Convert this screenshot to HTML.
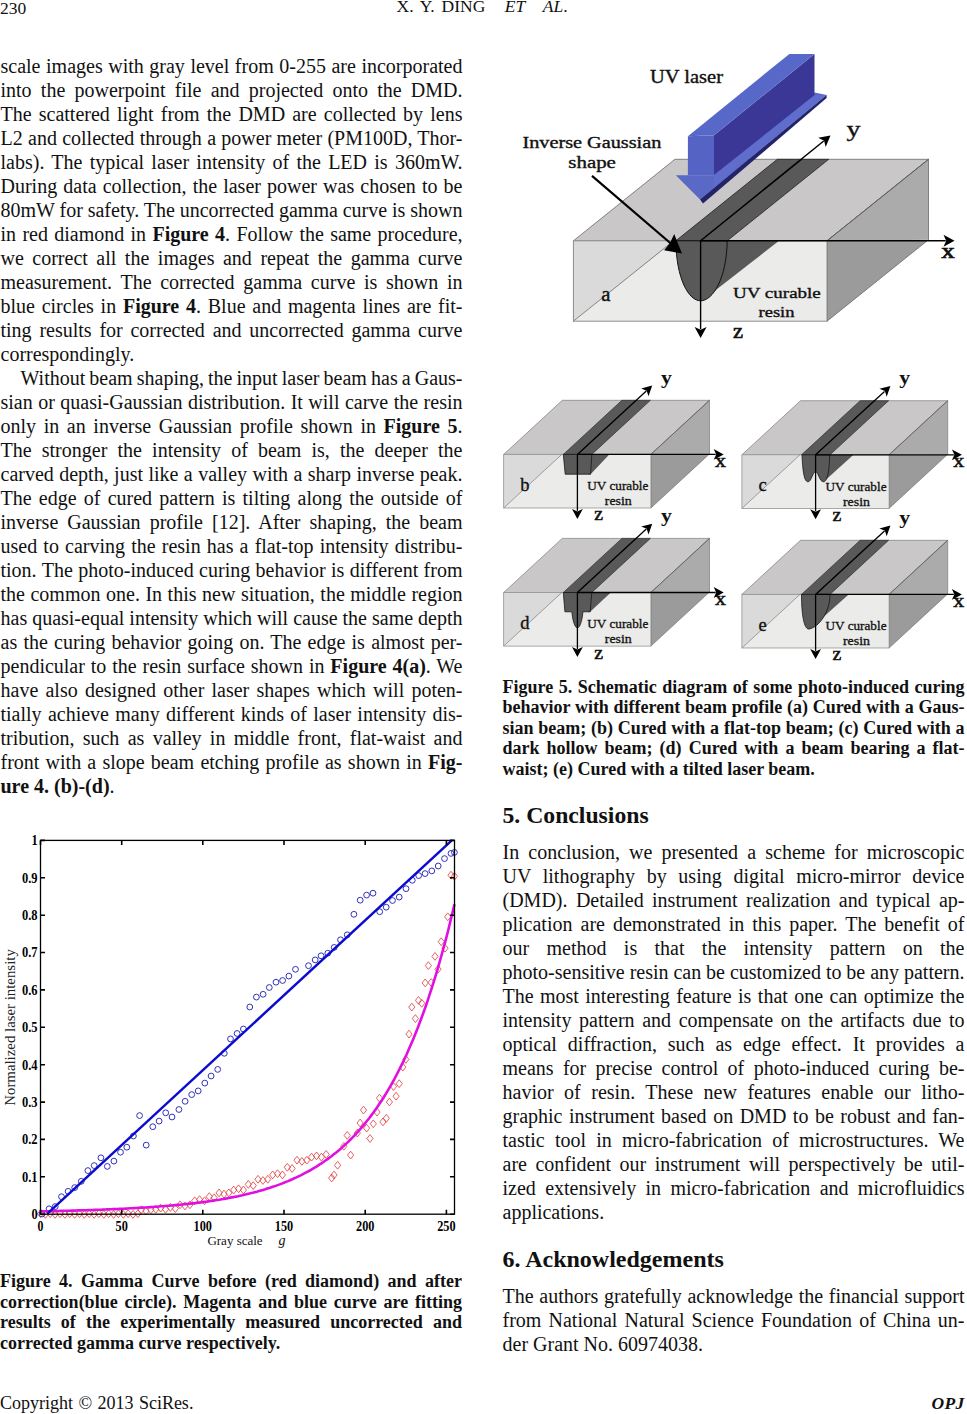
<!DOCTYPE html>
<html><head><meta charset="utf-8"><title>X. Y. DING ET AL. — OPJ 230</title>
<style>
html,body{margin:0;padding:0;background:#fff;}
body{width:967px;height:1414px;position:relative;overflow:hidden;font-family:"Liberation Serif","Times New Roman",serif;color:#111;}
.ln{position:absolute;white-space:nowrap;}
svg{position:absolute;left:0;top:0;}
</style></head><body>
<svg width="967" height="1414" viewBox="0 0 967 1414">
<path d="M40.5,1209.8l3.1,3.9l-3.1,3.9l-3.1,-3.9zM45.4,1210.5l3.1,3.9l-3.1,3.9l-3.1,-3.9zM50.2,1209.8l3.1,3.9l-3.1,3.9l-3.1,-3.9zM55.1,1210.5l3.1,3.9l-3.1,3.9l-3.1,-3.9zM60.0,1209.8l3.1,3.9l-3.1,3.9l-3.1,-3.9zM64.9,1210.5l3.1,3.9l-3.1,3.9l-3.1,-3.9zM69.7,1209.8l3.1,3.9l-3.1,3.9l-3.1,-3.9zM74.6,1210.5l3.1,3.9l-3.1,3.9l-3.1,-3.9zM79.5,1209.8l3.1,3.9l-3.1,3.9l-3.1,-3.9zM84.3,1210.5l3.1,3.9l-3.1,3.9l-3.1,-3.9zM89.2,1209.8l3.1,3.9l-3.1,3.9l-3.1,-3.9zM94.1,1210.5l3.1,3.9l-3.1,3.9l-3.1,-3.9zM98.9,1209.8l3.1,3.9l-3.1,3.9l-3.1,-3.9zM103.8,1210.5l3.1,3.9l-3.1,3.9l-3.1,-3.9zM108.7,1209.8l3.1,3.9l-3.1,3.9l-3.1,-3.9zM113.6,1210.5l3.1,3.9l-3.1,3.9l-3.1,-3.9zM118.4,1209.8l3.1,3.9l-3.1,3.9l-3.1,-3.9zM123.3,1210.5l3.1,3.9l-3.1,3.9l-3.1,-3.9zM128.2,1209.8l3.1,3.9l-3.1,3.9l-3.1,-3.9zM133.0,1210.5l3.1,3.9l-3.1,3.9l-3.1,-3.9zM137.9,1209.8l3.1,3.9l-3.1,3.9l-3.1,-3.9zM141.2,1205.9l3.1,3.9l-3.1,3.9l-3.1,-3.9zM146.0,1207.1l3.1,3.9l-3.1,3.9l-3.1,-3.9zM150.9,1205.9l3.1,3.9l-3.1,3.9l-3.1,-3.9zM155.8,1205.4l3.1,3.9l-3.1,3.9l-3.1,-3.9zM160.6,1204.2l3.1,3.9l-3.1,3.9l-3.1,-3.9zM165.5,1205.4l3.1,3.9l-3.1,3.9l-3.1,-3.9zM170.4,1203.5l3.1,3.9l-3.1,3.9l-3.1,-3.9zM175.3,1204.7l3.1,3.9l-3.1,3.9l-3.1,-3.9zM180.1,1200.9l3.1,3.9l-3.1,3.9l-3.1,-3.9zM185.0,1202.1l3.1,3.9l-3.1,3.9l-3.1,-3.9zM189.9,1200.9l3.1,3.9l-3.1,3.9l-3.1,-3.9zM194.7,1196.9l3.1,3.9l-3.1,3.9l-3.1,-3.9zM199.6,1195.7l3.1,3.9l-3.1,3.9l-3.1,-3.9zM204.5,1196.9l3.1,3.9l-3.1,3.9l-3.1,-3.9zM209.3,1192.7l3.1,3.9l-3.1,3.9l-3.1,-3.9zM214.2,1193.9l3.1,3.9l-3.1,3.9l-3.1,-3.9zM219.1,1189.0l3.1,3.9l-3.1,3.9l-3.1,-3.9zM224.0,1190.2l3.1,3.9l-3.1,3.9l-3.1,-3.9zM228.8,1189.0l3.1,3.9l-3.1,3.9l-3.1,-3.9zM233.7,1186.1l3.1,3.9l-3.1,3.9l-3.1,-3.9zM238.6,1184.9l3.1,3.9l-3.1,3.9l-3.1,-3.9zM243.4,1186.1l3.1,3.9l-3.1,3.9l-3.1,-3.9zM248.3,1180.5l3.1,3.9l-3.1,3.9l-3.1,-3.9zM253.2,1181.7l3.1,3.9l-3.1,3.9l-3.1,-3.9zM258.0,1175.4l3.1,3.9l-3.1,3.9l-3.1,-3.9zM262.9,1176.6l3.1,3.9l-3.1,3.9l-3.1,-3.9zM267.8,1175.4l3.1,3.9l-3.1,3.9l-3.1,-3.9zM272.7,1171.0l3.1,3.9l-3.1,3.9l-3.1,-3.9zM277.5,1169.8l3.1,3.9l-3.1,3.9l-3.1,-3.9zM282.4,1171.0l3.1,3.9l-3.1,3.9l-3.1,-3.9zM287.3,1163.4l3.1,3.9l-3.1,3.9l-3.1,-3.9zM292.1,1164.6l3.1,3.9l-3.1,3.9l-3.1,-3.9zM297.0,1156.3l3.1,3.9l-3.1,3.9l-3.1,-3.9zM301.9,1157.5l3.1,3.9l-3.1,3.9l-3.1,-3.9zM306.8,1156.3l3.1,3.9l-3.1,3.9l-3.1,-3.9zM311.6,1153.2l3.1,3.9l-3.1,3.9l-3.1,-3.9zM316.5,1152.0l3.1,3.9l-3.1,3.9l-3.1,-3.9zM321.4,1153.2l3.1,3.9l-3.1,3.9l-3.1,-3.9zM326.2,1150.5l3.1,3.9l-3.1,3.9l-3.1,-3.9zM331.7,1174.1l3.1,3.9l-3.1,3.9l-3.1,-3.9zM334.0,1171.1l3.1,3.9l-3.1,3.9l-3.1,-3.9zM337.6,1161.4l3.1,3.9l-3.1,3.9l-3.1,-3.9zM343.8,1142.4l3.1,3.9l-3.1,3.9l-3.1,-3.9zM347.2,1131.5l3.1,3.9l-3.1,3.9l-3.1,-3.9zM350.6,1151.2l3.1,3.9l-3.1,3.9l-3.1,-3.9zM357.3,1129.2l3.1,3.9l-3.1,3.9l-3.1,-3.9zM360.1,1119.1l3.1,3.9l-3.1,3.9l-3.1,-3.9zM363.5,1106.2l3.1,3.9l-3.1,3.9l-3.1,-3.9zM366.6,1124.2l3.1,3.9l-3.1,3.9l-3.1,-3.9zM370.0,1134.6l3.1,3.9l-3.1,3.9l-3.1,-3.9zM373.3,1119.9l3.1,3.9l-3.1,3.9l-3.1,-3.9zM377.0,1108.2l3.1,3.9l-3.1,3.9l-3.1,-3.9zM379.5,1094.3l3.1,3.9l-3.1,3.9l-3.1,-3.9zM382.9,1118.0l3.1,3.9l-3.1,3.9l-3.1,-3.9zM386.3,1114.4l3.1,3.9l-3.1,3.9l-3.1,-3.9zM389.4,1098.1l3.1,3.9l-3.1,3.9l-3.1,-3.9zM393.5,1082.6l3.1,3.9l-3.1,3.9l-3.1,-3.9zM396.1,1092.3l3.1,3.9l-3.1,3.9l-3.1,-3.9zM399.2,1079.8l3.1,3.9l-3.1,3.9l-3.1,-3.9zM402.8,1063.2l3.1,3.9l-3.1,3.9l-3.1,-3.9zM405.9,1055.5l3.1,3.9l-3.1,3.9l-3.1,-3.9zM409.0,1030.2l3.1,3.9l-3.1,3.9l-3.1,-3.9zM411.8,1003.2l3.1,3.9l-3.1,3.9l-3.1,-3.9zM415.4,1014.7l3.1,3.9l-3.1,3.9l-3.1,-3.9zM418.5,996.5l3.1,3.9l-3.1,3.9l-3.1,-3.9zM421.8,999.4l3.1,3.9l-3.1,3.9l-3.1,-3.9zM425.2,979.0l3.1,3.9l-3.1,3.9l-3.1,-3.9zM428.4,961.7l3.1,3.9l-3.1,3.9l-3.1,-3.9zM431.2,978.6l3.1,3.9l-3.1,3.9l-3.1,-3.9zM435.0,952.5l3.1,3.9l-3.1,3.9l-3.1,-3.9zM438.0,965.3l3.1,3.9l-3.1,3.9l-3.1,-3.9zM441.2,937.8l3.1,3.9l-3.1,3.9l-3.1,-3.9zM445.0,944.3l3.1,3.9l-3.1,3.9l-3.1,-3.9zM447.7,912.9l3.1,3.9l-3.1,3.9l-3.1,-3.9zM451.0,871.3l3.1,3.9l-3.1,3.9l-3.1,-3.9zM454.4,872.4l3.1,3.9l-3.1,3.9l-3.1,-3.9z" fill="none" stroke="#e03a3a" stroke-width="0.8"/>
<circle cx="42" cy="1214" r="2.9" fill="none" stroke="#2828b8" stroke-width="0.95"/>
<circle cx="49.1" cy="1208.8" r="2.9" fill="none" stroke="#2828b8" stroke-width="0.95"/>
<circle cx="55.2" cy="1206.6" r="2.9" fill="none" stroke="#2828b8" stroke-width="0.95"/>
<circle cx="61.5" cy="1196.7" r="2.9" fill="none" stroke="#2828b8" stroke-width="0.95"/>
<circle cx="68.1" cy="1191.3" r="2.9" fill="none" stroke="#2828b8" stroke-width="0.95"/>
<circle cx="74.7" cy="1187.6" r="2.9" fill="none" stroke="#2828b8" stroke-width="0.95"/>
<circle cx="81.3" cy="1181.3" r="2.9" fill="none" stroke="#2828b8" stroke-width="0.95"/>
<circle cx="87.9" cy="1170.6" r="2.9" fill="none" stroke="#2828b8" stroke-width="0.95"/>
<circle cx="94.2" cy="1165.6" r="2.9" fill="none" stroke="#2828b8" stroke-width="0.95"/>
<circle cx="100.9" cy="1157.8" r="2.9" fill="none" stroke="#2828b8" stroke-width="0.95"/>
<circle cx="107.3" cy="1166.4" r="2.9" fill="none" stroke="#2828b8" stroke-width="0.95"/>
<circle cx="113.9" cy="1161.1" r="2.9" fill="none" stroke="#2828b8" stroke-width="0.95"/>
<circle cx="120.5" cy="1152.2" r="2.9" fill="none" stroke="#2828b8" stroke-width="0.95"/>
<circle cx="126.8" cy="1147.2" r="2.9" fill="none" stroke="#2828b8" stroke-width="0.95"/>
<circle cx="133.4" cy="1136" r="2.9" fill="none" stroke="#2828b8" stroke-width="0.95"/>
<circle cx="139.6" cy="1115.6" r="2.9" fill="none" stroke="#2828b8" stroke-width="0.95"/>
<circle cx="146.2" cy="1145.1" r="2.9" fill="none" stroke="#2828b8" stroke-width="0.95"/>
<circle cx="152.8" cy="1126.7" r="2.9" fill="none" stroke="#2828b8" stroke-width="0.95"/>
<circle cx="159.1" cy="1121.1" r="2.9" fill="none" stroke="#2828b8" stroke-width="0.95"/>
<circle cx="165.7" cy="1112.8" r="2.9" fill="none" stroke="#2828b8" stroke-width="0.95"/>
<circle cx="172" cy="1117" r="2.9" fill="none" stroke="#2828b8" stroke-width="0.95"/>
<circle cx="178.9" cy="1109.5" r="2.9" fill="none" stroke="#2828b8" stroke-width="0.95"/>
<circle cx="185.1" cy="1101.3" r="2.9" fill="none" stroke="#2828b8" stroke-width="0.95"/>
<circle cx="191.7" cy="1094.6" r="2.9" fill="none" stroke="#2828b8" stroke-width="0.95"/>
<circle cx="198.2" cy="1090.9" r="2.9" fill="none" stroke="#2828b8" stroke-width="0.95"/>
<circle cx="204.8" cy="1083.1" r="2.9" fill="none" stroke="#2828b8" stroke-width="0.95"/>
<circle cx="211.1" cy="1076" r="2.9" fill="none" stroke="#2828b8" stroke-width="0.95"/>
<circle cx="217.7" cy="1069.4" r="2.9" fill="none" stroke="#2828b8" stroke-width="0.95"/>
<circle cx="224.3" cy="1053.3" r="2.9" fill="none" stroke="#2828b8" stroke-width="0.95"/>
<circle cx="230.5" cy="1038.9" r="2.9" fill="none" stroke="#2828b8" stroke-width="0.95"/>
<circle cx="237.1" cy="1033.5" r="2.9" fill="none" stroke="#2828b8" stroke-width="0.95"/>
<circle cx="243.4" cy="1029" r="2.9" fill="none" stroke="#2828b8" stroke-width="0.95"/>
<circle cx="249.8" cy="1007" r="2.9" fill="none" stroke="#2828b8" stroke-width="0.95"/>
<circle cx="256.4" cy="997.1" r="2.9" fill="none" stroke="#2828b8" stroke-width="0.95"/>
<circle cx="263.1" cy="994.3" r="2.9" fill="none" stroke="#2828b8" stroke-width="0.95"/>
<circle cx="269.3" cy="987.5" r="2.9" fill="none" stroke="#2828b8" stroke-width="0.95"/>
<circle cx="276" cy="982.2" r="2.9" fill="none" stroke="#2828b8" stroke-width="0.95"/>
<circle cx="282.6" cy="980.5" r="2.9" fill="none" stroke="#2828b8" stroke-width="0.95"/>
<circle cx="288.9" cy="976.1" r="2.9" fill="none" stroke="#2828b8" stroke-width="0.95"/>
<circle cx="295.5" cy="969.3" r="2.9" fill="none" stroke="#2828b8" stroke-width="0.95"/>
<circle cx="308.5" cy="965.7" r="2.9" fill="none" stroke="#2828b8" stroke-width="0.95"/>
<circle cx="315.2" cy="959.9" r="2.9" fill="none" stroke="#2828b8" stroke-width="0.95"/>
<circle cx="321.1" cy="955.8" r="2.9" fill="none" stroke="#2828b8" stroke-width="0.95"/>
<circle cx="327.8" cy="953.2" r="2.9" fill="none" stroke="#2828b8" stroke-width="0.95"/>
<circle cx="334.2" cy="947.4" r="2.9" fill="none" stroke="#2828b8" stroke-width="0.95"/>
<circle cx="340.5" cy="939.8" r="2.9" fill="none" stroke="#2828b8" stroke-width="0.95"/>
<circle cx="347.2" cy="934.8" r="2.9" fill="none" stroke="#2828b8" stroke-width="0.95"/>
<circle cx="353.9" cy="914.3" r="2.9" fill="none" stroke="#2828b8" stroke-width="0.95"/>
<circle cx="360.2" cy="900.2" r="2.9" fill="none" stroke="#2828b8" stroke-width="0.95"/>
<circle cx="366.6" cy="895.1" r="2.9" fill="none" stroke="#2828b8" stroke-width="0.95"/>
<circle cx="373" cy="893.2" r="2.9" fill="none" stroke="#2828b8" stroke-width="0.95"/>
<circle cx="379.7" cy="911.7" r="2.9" fill="none" stroke="#2828b8" stroke-width="0.95"/>
<circle cx="386.2" cy="907.2" r="2.9" fill="none" stroke="#2828b8" stroke-width="0.95"/>
<circle cx="392.5" cy="900.5" r="2.9" fill="none" stroke="#2828b8" stroke-width="0.95"/>
<circle cx="399.2" cy="897.1" r="2.9" fill="none" stroke="#2828b8" stroke-width="0.95"/>
<circle cx="406" cy="888.7" r="2.9" fill="none" stroke="#2828b8" stroke-width="0.95"/>
<circle cx="412.3" cy="880.3" r="2.9" fill="none" stroke="#2828b8" stroke-width="0.95"/>
<circle cx="418.7" cy="875.6" r="2.9" fill="none" stroke="#2828b8" stroke-width="0.95"/>
<circle cx="425.1" cy="873.6" r="2.9" fill="none" stroke="#2828b8" stroke-width="0.95"/>
<circle cx="431.8" cy="870.9" r="2.9" fill="none" stroke="#2828b8" stroke-width="0.95"/>
<circle cx="438.2" cy="866" r="2.9" fill="none" stroke="#2828b8" stroke-width="0.95"/>
<circle cx="444.5" cy="858.6" r="2.9" fill="none" stroke="#2828b8" stroke-width="0.95"/>
<circle cx="451" cy="853.4" r="2.9" fill="none" stroke="#2828b8" stroke-width="0.95"/>
<circle cx="454.4" cy="852.4" r="2.9" fill="none" stroke="#2828b8" stroke-width="0.95"/>
<polyline points="40.5,1211.4 42.6,1211.3 44.7,1211.3 46.7,1211.3 48.8,1211.2 50.9,1211.2 53.0,1211.1 55.1,1211.1 57.1,1211.0 59.2,1211.0 61.3,1210.9 63.4,1210.8 65.5,1210.8 67.5,1210.7 69.6,1210.7 71.7,1210.6 73.8,1210.6 75.9,1210.5 77.9,1210.4 80.0,1210.4 82.1,1210.3 84.2,1210.2 86.3,1210.2 88.3,1210.1 90.4,1210.0 92.5,1210.0 94.6,1209.9 96.7,1209.8 98.8,1209.7 100.8,1209.7 102.9,1209.6 105.0,1209.5 107.1,1209.4 109.2,1209.3 111.2,1209.2 113.3,1209.1 115.4,1209.1 117.5,1209.0 119.6,1208.9 121.6,1208.8 123.7,1208.7 125.8,1208.6 127.9,1208.5 130.0,1208.3 132.0,1208.2 134.1,1208.1 136.2,1208.0 138.3,1207.9 140.4,1207.8 142.4,1207.6 144.5,1207.5 146.6,1207.4 148.7,1207.2 150.8,1207.1 152.8,1207.0 154.9,1206.8 157.0,1206.7 159.1,1206.5 161.2,1206.3 163.2,1206.2 165.3,1206.0 167.4,1205.8 169.5,1205.7 171.6,1205.5 173.6,1205.3 175.7,1205.1 177.8,1204.9 179.9,1204.7 182.0,1204.5 184.0,1204.3 186.1,1204.1 188.2,1203.9 190.3,1203.6 192.4,1203.4 194.4,1203.2 196.5,1202.9 198.6,1202.6 200.7,1202.4 202.8,1202.1 204.9,1201.8 206.9,1201.6 209.0,1201.3 211.1,1201.0 213.2,1200.6 215.3,1200.3 217.3,1200.0 219.4,1199.7 221.5,1199.3 223.6,1199.0 225.7,1198.6 227.7,1198.2 229.8,1197.8 231.9,1197.4 234.0,1197.0 236.1,1196.6 238.1,1196.2 240.2,1195.7 242.3,1195.3 244.4,1194.8 246.5,1194.3 248.5,1193.8 250.6,1193.3 252.7,1192.8 254.8,1192.2 256.9,1191.7 258.9,1191.1 261.0,1190.5 263.1,1189.9 265.2,1189.3 267.3,1188.6 269.3,1188.0 271.4,1187.3 273.5,1186.6 275.6,1185.9 277.7,1185.1 279.7,1184.4 281.8,1183.6 283.9,1182.8 286.0,1181.9 288.1,1181.1 290.1,1180.2 292.2,1179.3 294.3,1178.3 296.4,1177.4 298.5,1176.4 300.6,1175.4 302.6,1174.3 304.7,1173.2 306.8,1172.1 308.9,1171.0 311.0,1169.8 313.0,1168.6 315.1,1167.4 317.2,1166.1 319.3,1164.7 321.4,1163.4 323.4,1162.0 325.5,1160.5 327.6,1159.1 329.7,1157.5 331.8,1156.0 333.8,1154.3 335.9,1152.7 338.0,1150.9 340.1,1149.2 342.2,1147.4 344.2,1145.5 346.3,1143.6 348.4,1141.6 350.5,1139.5 352.6,1137.4 354.6,1135.3 356.7,1133.0 358.8,1130.7 360.9,1128.4 363.0,1125.9 365.0,1123.4 367.1,1120.8 369.2,1118.2 371.3,1115.4 373.4,1112.6 375.4,1109.7 377.5,1106.7 379.6,1103.6 381.7,1100.5 383.8,1097.2 385.8,1093.8 387.9,1090.4 390.0,1086.8 392.1,1083.2 394.2,1079.4 396.2,1075.5 398.3,1071.5 400.4,1067.4 402.5,1063.1 404.6,1058.7 406.7,1054.2 408.7,1049.6 410.8,1044.8 412.9,1039.9 415.0,1034.8 417.1,1029.6 419.1,1024.3 421.2,1018.7 423.3,1013.0 425.4,1007.2 427.5,1001.1 429.5,994.9 431.6,988.5 433.7,981.9 435.8,975.1 437.9,968.2 439.9,961.0 442.0,953.5 444.1,945.9 446.2,938.1 448.3,930.0 450.3,921.6 452.4,913.0 454.5,904.2" fill="none" stroke="#e010e0" stroke-width="2.6"/>
<line x1="47.4" y1="1213.6" x2="451.8" y2="840.4" stroke="#0c0cd0" stroke-width="2.5"/>
<rect x="40.5" y="840.4" width="414" height="373.8" fill="none" stroke="#000" stroke-width="1.3"/>
<path d="M40.5,1214.2v-4.5M40.5,840.4v4.5M121.7,1214.2v-4.5M121.7,840.4v4.5M202.8,1214.2v-4.5M202.8,840.4v4.5M284.0,1214.2v-4.5M284.0,840.4v4.5M365.2,1214.2v-4.5M365.2,840.4v4.5M446.4,1214.2v-4.5M446.4,840.4v4.5M40.5,1214.2h4.5M454.5,1214.2h-4.5M40.5,1176.8h4.5M454.5,1176.8h-4.5M40.5,1139.4h4.5M454.5,1139.4h-4.5M40.5,1102.1h4.5M454.5,1102.1h-4.5M40.5,1064.7h4.5M454.5,1064.7h-4.5M40.5,1027.3h4.5M454.5,1027.3h-4.5M40.5,989.9h4.5M454.5,989.9h-4.5M40.5,952.5h4.5M454.5,952.5h-4.5M40.5,915.2h4.5M454.5,915.2h-4.5M40.5,877.8h4.5M454.5,877.8h-4.5M40.5,840.4h4.5M454.5,840.4h-4.5" stroke="#000" stroke-width="1.6" fill="none"/>
<g font-family="Liberation Serif" font-weight="bold" font-size="14.6px" fill="#000"><text x="40.5" y="1231" text-anchor="middle" textLength="5.9" lengthAdjust="spacingAndGlyphs">0</text><text x="121.7" y="1231" text-anchor="middle" textLength="12.3" lengthAdjust="spacingAndGlyphs">50</text><text x="202.8" y="1231" text-anchor="middle" textLength="18.4" lengthAdjust="spacingAndGlyphs">100</text><text x="284.0" y="1231" text-anchor="middle" textLength="18.4" lengthAdjust="spacingAndGlyphs">150</text><text x="365.2" y="1231" text-anchor="middle" textLength="18.4" lengthAdjust="spacingAndGlyphs">200</text><text x="446.4" y="1231" text-anchor="middle" textLength="18.4" lengthAdjust="spacingAndGlyphs">250</text><text x="37.6" y="1219.1" text-anchor="end" textLength="6.2" lengthAdjust="spacingAndGlyphs">0</text><text x="37.6" y="1181.7" text-anchor="end" textLength="15.6" lengthAdjust="spacingAndGlyphs">0.1</text><text x="37.6" y="1144.3" text-anchor="end" textLength="15.6" lengthAdjust="spacingAndGlyphs">0.2</text><text x="37.6" y="1107.0" text-anchor="end" textLength="15.6" lengthAdjust="spacingAndGlyphs">0.3</text><text x="37.6" y="1069.6" text-anchor="end" textLength="15.6" lengthAdjust="spacingAndGlyphs">0.4</text><text x="37.6" y="1032.2" text-anchor="end" textLength="15.6" lengthAdjust="spacingAndGlyphs">0.5</text><text x="37.6" y="994.8" text-anchor="end" textLength="15.6" lengthAdjust="spacingAndGlyphs">0.6</text><text x="37.6" y="957.4" text-anchor="end" textLength="15.6" lengthAdjust="spacingAndGlyphs">0.7</text><text x="37.6" y="920.1" text-anchor="end" textLength="15.6" lengthAdjust="spacingAndGlyphs">0.8</text><text x="37.6" y="882.7" text-anchor="end" textLength="15.6" lengthAdjust="spacingAndGlyphs">0.9</text><text x="37.6" y="845.3" text-anchor="end" textLength="6.2" lengthAdjust="spacingAndGlyphs">1</text></g>
<text x="207.4" y="1245.4" font-family="Liberation Serif" font-size="13px" fill="#111">Gray scale</text>
<text x="278.5" y="1245.4" font-family="Liberation Serif" font-size="14px" font-style="italic" fill="#111">g</text>
<text transform="translate(14.9,1105.7) rotate(-90)" font-family="Liberation Serif" font-size="14px" fill="#222" textLength="156.5" lengthAdjust="spacingAndGlyphs">Normalized laser intensity</text>
<g font-family="Liberation Serif">
<polygon points="573.4,240.8 827.0,240.8 928.5,159.3 674.9,159.3" fill="#c9c7c8" stroke="#6a6a6a" stroke-width="0.8"/>
<polygon points="827.0,240.8 928.5,159.3 928.5,239.7" fill="#ababab"/>
<polygon points="827.0,240.8 928.5,239.7 827.0,321.2" fill="#9b9b9b"/>
<polygon points="827.0,240.8 928.5,159.3 928.5,239.7 827.0,321.2" fill="none" stroke="#6a6a6a" stroke-width="0.8"/>
<line x1="827.0" y1="240.8" x2="928.5" y2="159.3" stroke="#555" stroke-width="0.8"/>
<rect x="573.4" y="240.8" width="253.6" height="80.4" fill="#ebebe9"/>
<polygon points="573.4,240.8 674.9,240.8 573.4,321.2" fill="#dadada"/>
<line x1="573.4" y1="321.2" x2="674.9" y2="239.7" stroke="#555" stroke-width="0.6400000000000001"/>
<rect x="573.4" y="240.8" width="253.6" height="80.4" fill="none" stroke="#8a8a8a" stroke-width="0.96"/>
<polygon points="675.8,240.8 727.2,240.8 828.7,159.3 777.3,159.3" fill="#595959" stroke="#222" stroke-width="0.8"/>
<line x1="700.6" y1="240.8" x2="802.1" y2="159.3" stroke="#111" stroke-width="0.8800000000000001"/>
<polygon points="719.2,240.8 779.1,240.8 702.6,300.3 696.6,290.8" fill="#595959"/>
<path d="M675.8,240.8 C676.3,278.8 688.6,300.8 700.6,300.8 C712.6,300.8 726.7,278.8 727.2,240.8 Z" fill="#595959" stroke="#111" stroke-width="1.00"/>
<polygon points="675.8,175.3 700.0,199.5 826.6,94.9 814.5,92.5 714.0,175.3 687.9,175.3" fill="#5a68c6"/>
<polygon points="700.0,199.5 826.6,94.9 826.6,98.0 703.0,203.5" fill="#23236a"/>
<polygon points="714.0,135.3 814.5,53.9 814.5,95.3 714.0,175.3" fill="#3b3797"/>
<polygon points="687.9,136.2 714.0,135.3 714.0,175.3 687.9,175.3" fill="#5563c4"/>
<polygon points="687.9,136.2 714.0,135.3 814.5,53.9 789.4,53.9" fill="#5868c9"/>
<polygon points="714.0,175.3 814.5,95.3 826.6,94.9 714.0,187.0" fill="#5f6dcc"/>
<line x1="700.6" y1="240.8" x2="945.7" y2="240.8" stroke="#000" stroke-width="1.4"/>
<polygon points="954.5,240.8 943.5,246.8 946.2,240.8 943.5,234.8" fill="#000"/>
<line x1="700.6" y1="240.8" x2="823.7" y2="141.0" stroke="#000" stroke-width="1.4"/>
<polygon points="830.5,135.5 825.7,147.1 824.1,140.7 818.2,137.8" fill="#000"/>
<line x1="700.6" y1="240.8" x2="700.6" y2="329.2" stroke="#000" stroke-width="1.4"/>
<polygon points="700.6,338.0 694.6,327.0 700.6,329.8 706.6,327.0" fill="#000"/>
<line x1="592" y1="175.9" x2="672" y2="244.5" stroke="#000" stroke-width="2.2"/>
<polygon points="682.0,253.4 664.1,250.2 670.0,243.0 674.2,234.0" fill="#000"/>
<text x="522.4" y="148.2" font-size="16px" text-anchor="start" textLength="139" lengthAdjust="spacingAndGlyphs" stroke="#111" stroke-width="0.35" fill="#111">Inverse Gaussian</text>
<text x="568.3" y="167.6" font-size="16px" text-anchor="start" textLength="47.6" lengthAdjust="spacingAndGlyphs" stroke="#111" stroke-width="0.35" fill="#111">shape</text>
<text x="650" y="83.4" font-size="18px" text-anchor="start" textLength="73" lengthAdjust="spacingAndGlyphs" stroke="#111" stroke-width="0.35" fill="#111">UV laser</text>
<text x="733" y="297.6" font-size="15.5px" text-anchor="start" textLength="87.8" lengthAdjust="spacingAndGlyphs" stroke="#111" stroke-width="0.35" fill="#111">UV curable</text>
<text x="758.5" y="316.5" font-size="15.5px" text-anchor="start" textLength="36" lengthAdjust="spacingAndGlyphs" stroke="#111" stroke-width="0.35" fill="#111">resin</text>
<text x="601.3" y="300.6" font-size="20px" text-anchor="start" textLength="9.2" lengthAdjust="spacingAndGlyphs" stroke="#111" stroke-width="0.4" fill="#111">a</text>
<text x="733" y="338.3" font-size="20px" text-anchor="start" textLength="10" lengthAdjust="spacingAndGlyphs" stroke="#111" stroke-width="0.6" fill="#111">z</text>
<text x="941.2" y="258" font-size="20px" text-anchor="start" textLength="13.5" lengthAdjust="spacingAndGlyphs" stroke="#111" stroke-width="0.7" fill="#111">x</text>
<text x="846.5" y="136.4" font-size="21px" text-anchor="start" textLength="14" lengthAdjust="spacingAndGlyphs" stroke="#111" stroke-width="0.35" fill="#111">y</text>
<polygon points="503.7,454.4 650.9,454.4 709.5,400.3 562.3,400.3" fill="#c9c7c8" stroke="#6a6a6a" stroke-width="0.6"/>
<polygon points="650.9,454.4 709.5,400.3 709.5,453.9" fill="#ababab"/>
<polygon points="650.9,454.4 709.5,453.9 650.9,508.0" fill="#9b9b9b"/>
<polygon points="650.9,454.4 709.5,400.3 709.5,453.9 650.9,508.0" fill="none" stroke="#6a6a6a" stroke-width="0.6"/>
<line x1="650.9" y1="454.4" x2="709.5" y2="400.3" stroke="#555" stroke-width="0.6"/>
<rect x="503.7" y="454.4" width="147.2" height="53.6" fill="#ebebe9"/>
<polygon points="503.7,454.4 562.3,454.4 503.7,508.0" fill="#dadada"/>
<line x1="503.7" y1="508.0" x2="562.3" y2="453.9" stroke="#555" stroke-width="0.48"/>
<rect x="503.7" y="454.4" width="147.2" height="53.6" fill="none" stroke="#8a8a8a" stroke-width="0.72"/>
<polygon points="563.3,454.4 591.8,454.4 650.4,400.3 621.9,400.3" fill="#595959" stroke="#222" stroke-width="0.6"/>
<line x1="577.4" y1="454.4" x2="636.0" y2="400.3" stroke="#111" stroke-width="0.66"/>
<polygon points="587.8,454.4 609.3,454.4 590.6,474.2 587.8,474.2" fill="#595959"/>
<path d="M563.3,454.4 L565.1999999999999,474.2 L590.5999999999999,474.2 L591.8,454.4 Z" fill="#595959" stroke="#111" stroke-width="0.75"/>
<line x1="577.4" y1="454.4" x2="715.7" y2="454.4" stroke="#000" stroke-width="1.3"/>
<polygon points="723.7,454.4 713.7,459.8 716.2,454.4 713.7,449.0" fill="#000"/>
<line x1="577.4" y1="454.4" x2="646.3" y2="391.0" stroke="#000" stroke-width="1.3"/>
<polygon points="652.2,385.6 648.5,396.3 646.7,390.7 641.2,388.4" fill="#000"/>
<line x1="577.4" y1="454.4" x2="577.4" y2="510.9" stroke="#000" stroke-width="1.3"/>
<polygon points="577.4,518.9 572.0,508.9 577.4,511.4 582.8,508.9" fill="#000"/>
<text x="520.2" y="490.6" font-size="18.5px" text-anchor="start" stroke="#111" stroke-width="0.35" fill="#111">b</text>
<text x="587.3" y="490.3" font-size="12.5px" text-anchor="start" textLength="61" lengthAdjust="spacingAndGlyphs" stroke="#111" stroke-width="0.3" fill="#111">UV curable</text>
<text x="604.8" y="505.2" font-size="12.5px" text-anchor="start" textLength="27" lengthAdjust="spacingAndGlyphs" stroke="#111" stroke-width="0.3" fill="#111">resin</text>
<text x="594.2" y="520.4" font-size="18px" text-anchor="start" textLength="8.8" lengthAdjust="spacingAndGlyphs" stroke="#111" stroke-width="0.5" fill="#111">z</text>
<text x="715.0" y="467.0" font-size="18px" text-anchor="start" textLength="11" lengthAdjust="spacingAndGlyphs" stroke="#111" stroke-width="0.5" fill="#111">x</text>
<text x="661.0" y="384.0" font-size="19.5px" text-anchor="start" font-weight="bold" textLength="10.9" lengthAdjust="spacingAndGlyphs" fill="#111">y</text>
<polygon points="741.9,454.8 889.1,454.8 947.7,400.7 800.5,400.7" fill="#c9c7c8" stroke="#6a6a6a" stroke-width="0.6"/>
<polygon points="889.1,454.8 947.7,400.7 947.7,454.3" fill="#ababab"/>
<polygon points="889.1,454.8 947.7,454.3 889.1,508.4" fill="#9b9b9b"/>
<polygon points="889.1,454.8 947.7,400.7 947.7,454.3 889.1,508.4" fill="none" stroke="#6a6a6a" stroke-width="0.6"/>
<line x1="889.1" y1="454.8" x2="947.7" y2="400.7" stroke="#555" stroke-width="0.6"/>
<rect x="741.9" y="454.8" width="147.2" height="53.6" fill="#ebebe9"/>
<polygon points="741.9,454.8 800.5,454.8 741.9,508.4" fill="#dadada"/>
<line x1="741.9" y1="508.4" x2="800.5" y2="454.3" stroke="#555" stroke-width="0.48"/>
<rect x="741.9" y="454.8" width="147.2" height="53.6" fill="none" stroke="#8a8a8a" stroke-width="0.72"/>
<polygon points="801.5,454.8 830.0,454.8 888.6,400.7 860.1,400.7" fill="#595959" stroke="#222" stroke-width="0.6"/>
<line x1="815.6" y1="454.8" x2="874.2" y2="400.7" stroke="#111" stroke-width="0.66"/>
<polygon points="825.0,454.8 853.5,454.8 823.6,481.8 818.6,475.8" fill="#595959"/>
<path d="M802.0,454.8 C802.5,466.8 803.5,481.8 808.0,481.8 C811.5,481.8 812.6,471.8 815.6,471.8 C818.6,471.8 819.1,481.8 823.6,481.8 C828.0,481.8 829.5,466.8 829.7,454.8 Z" fill="#595959" stroke="#111" stroke-width="0.75"/>
<line x1="815.6" y1="454.8" x2="953.9" y2="454.8" stroke="#000" stroke-width="1.3"/>
<polygon points="961.9,454.8 951.9,460.2 954.4,454.8 951.9,449.4" fill="#000"/>
<line x1="815.6" y1="454.8" x2="884.5" y2="391.4" stroke="#000" stroke-width="1.3"/>
<polygon points="890.4,386.0 886.7,396.7 884.9,391.1 879.4,388.8" fill="#000"/>
<line x1="815.6" y1="454.8" x2="815.6" y2="511.3" stroke="#000" stroke-width="1.3"/>
<polygon points="815.6,519.3 810.2,509.3 815.6,511.8 821.0,509.3" fill="#000"/>
<text x="758.4" y="491.0" font-size="18.5px" text-anchor="start" stroke="#111" stroke-width="0.35" fill="#111">c</text>
<text x="825.5" y="490.7" font-size="12.5px" text-anchor="start" textLength="61" lengthAdjust="spacingAndGlyphs" stroke="#111" stroke-width="0.3" fill="#111">UV curable</text>
<text x="843.0" y="505.6" font-size="12.5px" text-anchor="start" textLength="27" lengthAdjust="spacingAndGlyphs" stroke="#111" stroke-width="0.3" fill="#111">resin</text>
<text x="832.4" y="520.8" font-size="18px" text-anchor="start" textLength="8.8" lengthAdjust="spacingAndGlyphs" stroke="#111" stroke-width="0.5" fill="#111">z</text>
<text x="953.2" y="467.4" font-size="18px" text-anchor="start" textLength="11" lengthAdjust="spacingAndGlyphs" stroke="#111" stroke-width="0.5" fill="#111">x</text>
<text x="899.2" y="384.4" font-size="19.5px" text-anchor="start" font-weight="bold" textLength="10.9" lengthAdjust="spacingAndGlyphs" fill="#111">y</text>
<polygon points="503.7,592.5 650.9,592.5 709.5,538.4 562.3,538.4" fill="#c9c7c8" stroke="#6a6a6a" stroke-width="0.6"/>
<polygon points="650.9,592.5 709.5,538.4 709.5,592.0" fill="#ababab"/>
<polygon points="650.9,592.5 709.5,592.0 650.9,646.1" fill="#9b9b9b"/>
<polygon points="650.9,592.5 709.5,538.4 709.5,592.0 650.9,646.1" fill="none" stroke="#6a6a6a" stroke-width="0.6"/>
<line x1="650.9" y1="592.5" x2="709.5" y2="538.4" stroke="#555" stroke-width="0.6"/>
<rect x="503.7" y="592.5" width="147.2" height="53.6" fill="#ebebe9"/>
<polygon points="503.7,592.5 562.3,592.5 503.7,646.1" fill="#dadada"/>
<line x1="503.7" y1="646.1" x2="562.3" y2="592.0" stroke="#555" stroke-width="0.48"/>
<rect x="503.7" y="592.5" width="147.2" height="53.6" fill="none" stroke="#8a8a8a" stroke-width="0.72"/>
<polygon points="563.3,592.5 591.8,592.5 650.4,538.4 621.9,538.4" fill="#595959" stroke="#222" stroke-width="0.6"/>
<line x1="577.4" y1="592.5" x2="636.0" y2="538.4" stroke="#111" stroke-width="0.66"/>
<polygon points="587.8,592.5 610.8,592.5 590.2,611.8 587.8,611.8" fill="#595959"/>
<path d="M563.3,592.5 L564.9,611.8 L571.9,611.8 C572.4,619.8 574.9,628.0 577.4,628.0 C579.9,628.0 582.4,619.8 582.9,611.8 L590.1999999999999,611.8 L591.8,592.5 Z" fill="#595959" stroke="#111" stroke-width="0.75"/>
<line x1="577.4" y1="592.5" x2="715.7" y2="592.5" stroke="#000" stroke-width="1.3"/>
<polygon points="723.7,592.5 713.7,597.9 716.2,592.5 713.7,587.1" fill="#000"/>
<line x1="577.4" y1="592.5" x2="646.3" y2="529.1" stroke="#000" stroke-width="1.3"/>
<polygon points="652.2,523.7 648.5,534.4 646.7,528.8 641.2,526.5" fill="#000"/>
<line x1="577.4" y1="592.5" x2="577.4" y2="649.0" stroke="#000" stroke-width="1.3"/>
<polygon points="577.4,657.0 572.0,647.0 577.4,649.5 582.8,647.0" fill="#000"/>
<text x="520.2" y="628.7" font-size="18.5px" text-anchor="start" stroke="#111" stroke-width="0.35" fill="#111">d</text>
<text x="587.3" y="628.4" font-size="12.5px" text-anchor="start" textLength="61" lengthAdjust="spacingAndGlyphs" stroke="#111" stroke-width="0.3" fill="#111">UV curable</text>
<text x="604.8" y="643.3" font-size="12.5px" text-anchor="start" textLength="27" lengthAdjust="spacingAndGlyphs" stroke="#111" stroke-width="0.3" fill="#111">resin</text>
<text x="594.2" y="658.5" font-size="18px" text-anchor="start" textLength="8.8" lengthAdjust="spacingAndGlyphs" stroke="#111" stroke-width="0.5" fill="#111">z</text>
<text x="715.0" y="605.1" font-size="18px" text-anchor="start" textLength="11" lengthAdjust="spacingAndGlyphs" stroke="#111" stroke-width="0.5" fill="#111">x</text>
<text x="661.0" y="522.1" font-size="19.5px" text-anchor="start" font-weight="bold" textLength="10.9" lengthAdjust="spacingAndGlyphs" fill="#111">y</text>
<polygon points="741.9,594.4 889.1,594.4 947.7,540.3 800.5,540.3" fill="#c9c7c8" stroke="#6a6a6a" stroke-width="0.6"/>
<polygon points="889.1,594.4 947.7,540.3 947.7,593.9" fill="#ababab"/>
<polygon points="889.1,594.4 947.7,593.9 889.1,648.0" fill="#9b9b9b"/>
<polygon points="889.1,594.4 947.7,540.3 947.7,593.9 889.1,648.0" fill="none" stroke="#6a6a6a" stroke-width="0.6"/>
<line x1="889.1" y1="594.4" x2="947.7" y2="540.3" stroke="#555" stroke-width="0.6"/>
<rect x="741.9" y="594.4" width="147.2" height="53.6" fill="#ebebe9"/>
<polygon points="741.9,594.4 800.5,594.4 741.9,648.0" fill="#dadada"/>
<line x1="741.9" y1="648.0" x2="800.5" y2="593.9" stroke="#555" stroke-width="0.48"/>
<rect x="741.9" y="594.4" width="147.2" height="53.6" fill="none" stroke="#8a8a8a" stroke-width="0.72"/>
<polygon points="801.5,594.4 830.0,594.4 888.6,540.3 860.1,540.3" fill="#595959" stroke="#222" stroke-width="0.6"/>
<line x1="815.6" y1="594.4" x2="874.2" y2="540.3" stroke="#111" stroke-width="0.66"/>
<polygon points="824.0,594.4 848.7,594.4 809.9,629.1 806.9,623.1 805.5,604.4" fill="#595959"/>
<path d="M801.5,594.4 C801.5,614.4 803.9,629.1 808.9,629.1 C818.9,627.1 830.0,612.4 830.0,594.4 Z" fill="#595959" stroke="#111" stroke-width="0.75"/>
<line x1="815.6" y1="594.4" x2="953.9" y2="594.4" stroke="#000" stroke-width="1.3"/>
<polygon points="961.9,594.4 951.9,599.8 954.4,594.4 951.9,589.0" fill="#000"/>
<line x1="815.6" y1="594.4" x2="884.5" y2="531.0" stroke="#000" stroke-width="1.3"/>
<polygon points="890.4,525.6 886.7,536.3 884.9,530.7 879.4,528.4" fill="#000"/>
<line x1="815.6" y1="594.4" x2="815.6" y2="650.9" stroke="#000" stroke-width="1.3"/>
<polygon points="815.6,658.9 810.2,648.9 815.6,651.4 821.0,648.9" fill="#000"/>
<text x="758.4" y="630.6" font-size="18.5px" text-anchor="start" stroke="#111" stroke-width="0.35" fill="#111">e</text>
<text x="825.5" y="630.3" font-size="12.5px" text-anchor="start" textLength="61" lengthAdjust="spacingAndGlyphs" stroke="#111" stroke-width="0.3" fill="#111">UV curable</text>
<text x="843.0" y="645.2" font-size="12.5px" text-anchor="start" textLength="27" lengthAdjust="spacingAndGlyphs" stroke="#111" stroke-width="0.3" fill="#111">resin</text>
<text x="832.4" y="660.4" font-size="18px" text-anchor="start" textLength="8.8" lengthAdjust="spacingAndGlyphs" stroke="#111" stroke-width="0.5" fill="#111">z</text>
<text x="953.2" y="607.0" font-size="18px" text-anchor="start" textLength="11" lengthAdjust="spacingAndGlyphs" stroke="#111" stroke-width="0.5" fill="#111">x</text>
<text x="899.2" y="524.0" font-size="19.5px" text-anchor="start" font-weight="bold" textLength="10.9" lengthAdjust="spacingAndGlyphs" fill="#111">y</text>
</g>
</svg>
<div class="ln" style="left:0px;top:-1.75px;font-size:17.5px;line-height:21.88px;text-align:left;text-align-last:left;">230</div>
<div class="ln" style="left:396.5px;top:-4.05px;font-size:17.5px;line-height:21.88px;text-align:left;text-align-last:left;word-spacing:2.6px;">X. Y. DING<span style="display:inline-block;width:19.5px"></span><i>ET</i><span style="display:inline-block;width:17.5px"></span><i>AL</i>.</div>
<div class="ln" style="left:0.5px;top:53.55px;width:462px;font-size:20px;line-height:25.0px;text-align:justify;text-align-last:justify;">scale images with gray level from 0-255 are incorporated</div>
<div class="ln" style="left:0.5px;top:77.55px;width:462px;font-size:20px;line-height:25.0px;text-align:justify;text-align-last:justify;">into the powerpoint file and projected onto the DMD.</div>
<div class="ln" style="left:0.5px;top:101.55px;width:462px;font-size:20px;line-height:25.0px;text-align:justify;text-align-last:justify;">The scattered light from the DMD are collected by lens</div>
<div class="ln" style="left:0.5px;top:125.55px;width:462px;font-size:20px;line-height:25.0px;text-align:justify;text-align-last:justify;">L2 and collected through a power meter (PM100D, Thor-</div>
<div class="ln" style="left:0.5px;top:149.55px;width:462px;font-size:20px;line-height:25.0px;text-align:justify;text-align-last:justify;">labs). The typical laser intensity of the LED is 360mW.</div>
<div class="ln" style="left:0.5px;top:173.55px;width:462px;font-size:20px;line-height:25.0px;text-align:justify;text-align-last:justify;">During data collection, the laser power was chosen to be</div>
<div class="ln" style="left:0.5px;top:197.55px;width:462px;font-size:20px;line-height:25.0px;text-align:justify;text-align-last:justify;word-spacing:-0.16px;">80mW for safety. The uncorrected gamma curve is shown</div>
<div class="ln" style="left:0.5px;top:221.55px;width:462px;font-size:20px;line-height:25.0px;text-align:justify;text-align-last:justify;">in red diamond in <b>Figure 4</b>. Follow the same procedure,</div>
<div class="ln" style="left:0.5px;top:245.55px;width:462px;font-size:20px;line-height:25.0px;text-align:justify;text-align-last:justify;">we correct all the images and repeat the gamma curve</div>
<div class="ln" style="left:0.5px;top:269.55px;width:462px;font-size:20px;line-height:25.0px;text-align:justify;text-align-last:justify;">measurement. The corrected gamma curve is shown in</div>
<div class="ln" style="left:0.5px;top:293.55px;width:462px;font-size:20px;line-height:25.0px;text-align:justify;text-align-last:justify;">blue circles in <b>Figure 4</b>. Blue and magenta lines are fit-</div>
<div class="ln" style="left:0.5px;top:317.55px;width:462px;font-size:20px;line-height:25.0px;text-align:justify;text-align-last:justify;">ting results for corrected and uncorrected gamma curve</div>
<div class="ln" style="left:0.5px;top:341.55px;width:462px;font-size:20px;line-height:25.0px;text-align:left;text-align-last:left;">correspondingly.</div>
<div class="ln" style="left:20.5px;top:365.55px;width:442px;font-size:20px;line-height:25.0px;text-align:justify;text-align-last:justify;word-spacing:-0.97px;">Without beam shaping, the input laser beam has a Gaus-</div>
<div class="ln" style="left:0.5px;top:389.55px;width:462px;font-size:20px;line-height:25.0px;text-align:justify;text-align-last:justify;">sian or quasi-Gaussian distribution. It will carve the resin</div>
<div class="ln" style="left:0.5px;top:413.55px;width:462px;font-size:20px;line-height:25.0px;text-align:justify;text-align-last:justify;">only in an inverse Gaussian profile shown in <b>Figure 5</b>.</div>
<div class="ln" style="left:0.5px;top:437.55px;width:462px;font-size:20px;line-height:25.0px;text-align:justify;text-align-last:justify;">The stronger the intensity of beam is, the deeper the</div>
<div class="ln" style="left:0.5px;top:461.55px;width:462px;font-size:20px;line-height:25.0px;text-align:justify;text-align-last:justify;">carved depth, just like a valley with a sharp inverse peak.</div>
<div class="ln" style="left:0.5px;top:485.55px;width:462px;font-size:20px;line-height:25.0px;text-align:justify;text-align-last:justify;">The edge of cured pattern is tilting along the outside of</div>
<div class="ln" style="left:0.5px;top:509.55px;width:462px;font-size:20px;line-height:25.0px;text-align:justify;text-align-last:justify;">inverse Gaussian profile [12]. After shaping, the beam</div>
<div class="ln" style="left:0.5px;top:533.55px;width:462px;font-size:20px;line-height:25.0px;text-align:justify;text-align-last:justify;">used to carving the resin has a flat-top intensity distribu-</div>
<div class="ln" style="left:0.5px;top:557.55px;width:462px;font-size:20px;line-height:25.0px;text-align:justify;text-align-last:justify;">tion. The photo-induced curing behavior is different from</div>
<div class="ln" style="left:0.5px;top:581.55px;width:462px;font-size:20px;line-height:25.0px;text-align:justify;text-align-last:justify;">the common one. In this new situation, the middle region</div>
<div class="ln" style="left:0.5px;top:605.55px;width:462px;font-size:20px;line-height:25.0px;text-align:justify;text-align-last:justify;word-spacing:-0.08px;">has quasi-equal intensity which will cause the same depth</div>
<div class="ln" style="left:0.5px;top:629.55px;width:462px;font-size:20px;line-height:25.0px;text-align:justify;text-align-last:justify;">as the curing behavior going on. The edge is almost per-</div>
<div class="ln" style="left:0.5px;top:653.55px;width:462px;font-size:20px;line-height:25.0px;text-align:justify;text-align-last:justify;">pendicular to the resin surface shown in <b>Figure 4(a)</b>. We</div>
<div class="ln" style="left:0.5px;top:677.55px;width:462px;font-size:20px;line-height:25.0px;text-align:justify;text-align-last:justify;">have also designed other laser shapes which will poten-</div>
<div class="ln" style="left:0.5px;top:701.55px;width:462px;font-size:20px;line-height:25.0px;text-align:justify;text-align-last:justify;">tially achieve many different kinds of laser intensity dis-</div>
<div class="ln" style="left:0.5px;top:725.55px;width:462px;font-size:20px;line-height:25.0px;text-align:justify;text-align-last:justify;">tribution, such as valley in middle front, flat-waist and</div>
<div class="ln" style="left:0.5px;top:749.55px;width:462px;font-size:20px;line-height:25.0px;text-align:justify;text-align-last:justify;">front with a slope beam etching profile as shown in <b>Fig-</b></div>
<div class="ln" style="left:0.5px;top:773.55px;width:462px;font-size:20px;line-height:25.0px;text-align:left;text-align-last:left;"><b>ure 4. (b)-(d)</b>.</div>
<div class="ln" style="left:0px;top:1270.92px;width:462px;font-size:18px;line-height:20.6px;font-weight:bold;text-align:justify;text-align-last:justify;">Figure 4. Gamma Curve before (red diamond) and after</div>
<div class="ln" style="left:0px;top:1291.56px;width:462px;font-size:18px;line-height:20.6px;font-weight:bold;text-align:justify;text-align-last:justify;">correction(blue circle). Magenta and blue curve are fitting</div>
<div class="ln" style="left:0px;top:1312.18px;width:462px;font-size:18px;line-height:20.6px;font-weight:bold;text-align:justify;text-align-last:justify;">results of the experimentally measured uncorrected and</div>
<div class="ln" style="left:0px;top:1332.82px;width:462px;font-size:18px;line-height:20.6px;font-weight:bold;text-align:left;text-align-last:left;">corrected gamma curve respectively.</div>
<div class="ln" style="left:502.5px;top:676.62px;width:462px;font-size:18px;line-height:20.6px;font-weight:bold;text-align:justify;text-align-last:justify;">Figure 5. Schematic diagram of some photo-induced curing</div>
<div class="ln" style="left:502.5px;top:697.23px;width:462px;font-size:18px;line-height:20.6px;font-weight:bold;text-align:justify;text-align-last:justify;">behavior with different beam profile (a) Cured with a Gaus-</div>
<div class="ln" style="left:502.5px;top:717.83px;width:462px;font-size:18px;line-height:20.6px;font-weight:bold;text-align:justify;text-align-last:justify;">sian beam; (b) Cured with a flat-top beam; (c) Cured with a</div>
<div class="ln" style="left:502.5px;top:738.42px;width:462px;font-size:18px;line-height:20.6px;font-weight:bold;text-align:justify;text-align-last:justify;">dark hollow beam; (d) Cured with a beam bearing a flat-</div>
<div class="ln" style="left:502.5px;top:759.02px;width:462px;font-size:18px;line-height:20.6px;font-weight:bold;text-align:left;text-align-last:left;">waist; (e) Cured with a tilted laser beam.</div>
<div class="ln" style="left:502.5px;top:801.09px;font-size:23.7px;line-height:29.62px;font-weight:bold;text-align:left;text-align-last:left;">5. Conclusions</div>
<div class="ln" style="left:502.5px;top:839.65px;width:462px;font-size:20px;line-height:25.0px;text-align:justify;text-align-last:justify;">In conclusion, we presented a scheme for microscopic</div>
<div class="ln" style="left:502.5px;top:863.65px;width:462px;font-size:20px;line-height:25.0px;text-align:justify;text-align-last:justify;">UV lithography by using digital micro-mirror device</div>
<div class="ln" style="left:502.5px;top:887.65px;width:462px;font-size:20px;line-height:25.0px;text-align:justify;text-align-last:justify;">(DMD). Detailed instrument realization and typical ap-</div>
<div class="ln" style="left:502.5px;top:911.65px;width:462px;font-size:20px;line-height:25.0px;text-align:justify;text-align-last:justify;">plication are demonstrated in this paper. The benefit of</div>
<div class="ln" style="left:502.5px;top:935.65px;width:462px;font-size:20px;line-height:25.0px;text-align:justify;text-align-last:justify;">our method is that the intensity pattern on the</div>
<div class="ln" style="left:502.5px;top:959.65px;width:462px;font-size:20px;line-height:25.0px;text-align:justify;text-align-last:justify;word-spacing:-0.14px;">photo-sensitive resin can be customized to be any pattern.</div>
<div class="ln" style="left:502.5px;top:983.65px;width:462px;font-size:20px;line-height:25.0px;text-align:justify;text-align-last:justify;">The most interesting feature is that one can optimize the</div>
<div class="ln" style="left:502.5px;top:1007.65px;width:462px;font-size:20px;line-height:25.0px;text-align:justify;text-align-last:justify;">intensity pattern and compensate on the artifacts due to</div>
<div class="ln" style="left:502.5px;top:1031.65px;width:462px;font-size:20px;line-height:25.0px;text-align:justify;text-align-last:justify;">optical diffraction, such as edge effect. It provides a</div>
<div class="ln" style="left:502.5px;top:1055.65px;width:462px;font-size:20px;line-height:25.0px;text-align:justify;text-align-last:justify;">means for precise control of photo-induced curing be-</div>
<div class="ln" style="left:502.5px;top:1079.65px;width:462px;font-size:20px;line-height:25.0px;text-align:justify;text-align-last:justify;">havior of resin. These new features enable our litho-</div>
<div class="ln" style="left:502.5px;top:1103.65px;width:462px;font-size:20px;line-height:25.0px;text-align:justify;text-align-last:justify;">graphic instrument based on DMD to be robust and fan-</div>
<div class="ln" style="left:502.5px;top:1127.65px;width:462px;font-size:20px;line-height:25.0px;text-align:justify;text-align-last:justify;">tastic tool in micro-fabrication of microstructures. We</div>
<div class="ln" style="left:502.5px;top:1151.65px;width:462px;font-size:20px;line-height:25.0px;text-align:justify;text-align-last:justify;">are confident our instrument will perspectively be util-</div>
<div class="ln" style="left:502.5px;top:1175.65px;width:462px;font-size:20px;line-height:25.0px;text-align:justify;text-align-last:justify;">ized extensively in micro-fabrication and microfluidics</div>
<div class="ln" style="left:502.5px;top:1199.65px;width:462px;font-size:20px;line-height:25.0px;text-align:left;text-align-last:left;">applications.</div>
<div class="ln" style="left:502.5px;top:1244.10px;font-size:24px;line-height:30.0px;font-weight:bold;text-align:left;text-align-last:left;">6. Acknowledgements</div>
<div class="ln" style="left:502.5px;top:1283.55px;width:462px;font-size:20px;line-height:25.0px;text-align:justify;text-align-last:justify;">The authors gratefully acknowledge the financial support</div>
<div class="ln" style="left:502.5px;top:1307.55px;width:462px;font-size:20px;line-height:25.0px;text-align:justify;text-align-last:justify;">from National Natural Science Foundation of China un-</div>
<div class="ln" style="left:502.5px;top:1331.55px;width:462px;font-size:20px;line-height:25.0px;text-align:left;text-align-last:left;">der Grant No. 60974038.</div>
<div class="ln" style="left:0px;top:1391.97px;font-size:18px;line-height:22.5px;text-align:left;text-align-last:left;word-spacing:0.9px;">Copyright © 2013 SciRes.</div>
<div class="ln" style="left:931.5px;top:1393.35px;font-size:17.5px;line-height:21.88px;font-weight:bold;font-style:italic;text-align:left;text-align-last:left;letter-spacing:0.3px;">OPJ</div>

</body></html>
